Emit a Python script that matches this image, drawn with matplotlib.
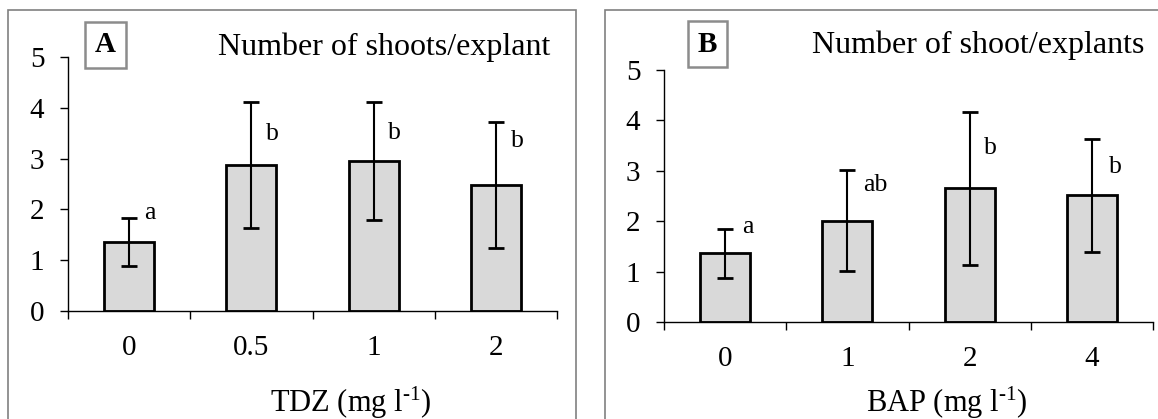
import matplotlib
matplotlib.use("Agg")
import matplotlib.pyplot as plt
from matplotlib.patches import Rectangle

plt.rcParams['font.family'] = ['Liberation Serif', 'DejaVu Serif']
plt.rcParams['mathtext.fontset'] = 'custom'
plt.rcParams['mathtext.rm'] = 'Liberation Serif'
plt.rcParams['mathtext.it'] = 'Liberation Serif:italic'
plt.rcParams['mathtext.bf'] = 'Liberation Serif:bold'

# Panel A data (TDZ)
tdz_levels = ["0", "0.5", "1", "2"]
tdz_means = [1.36, 2.87, 2.95, 2.48]
tdz_err = [0.47, 1.24, 1.16, 1.24]
tdz_letters = ["a", "b", "b", "b"]
tdz_letter_y = [1.93, 3.48, 3.51, 3.35]

# Panel B data (BAP)
bap_levels = ["0", "1", "2", "4"]
bap_means = [1.36, 2.01, 2.65, 2.51]
bap_err = [0.48, 1.00, 1.52, 1.12]
bap_letters = ["a", "ab", "b", "b"]
bap_letter_y = [1.88, 2.72, 3.45, 3.07]

W, H = 1158, 419
fig = plt.figure(figsize=(W / 100, H / 100), dpi=100)

def px_axes(l, r, b, t):
    return fig.add_axes([l / W, 1 - b / H, (r - l) / W, (b - t) / H])

def panel(ax, levels, means, err, letters, ly, xoffs):
    x = list(range(len(levels)))
    ax.bar(x, means, width=0.41, color='#d9d9d9', edgecolor='black',
           linewidth=2.0, zorder=2)
    ax.errorbar(x, means, yerr=err, fmt='none', ecolor='black',
                elinewidth=1.5, capsize=6, capthick=2.0, zorder=3)
    for xi, lt, yy, dx in zip(x, letters, ly, xoffs):
        ax.text(xi + dx, yy, lt, ha='left', va='center', fontsize=18.5)
    ax.set_xlim(-0.5, len(levels) - 0.5)
    ax.set_ylim(0, 5)
    ax.set_yticks([0, 1, 2, 3, 4, 5])
    ax.set_xticks([i - 0.5 for i in range(len(levels) + 1)])
    ax.set_xticklabels([])
    ax.set_xticks(x, minor=True)
    ax.set_xticklabels(levels, minor=True, fontsize=21)
    ax.tick_params(axis='x', which='major', direction='out', length=6, width=1)
    ax.tick_params(axis='x', which='minor', length=0, pad=17)
    ax.tick_params(axis='y', direction='out', length=6, width=1, pad=11,
                   labelsize=21)
    for s in ['top', 'right']:
        ax.spines[s].set_visible(False)
    for s in ['left', 'bottom']:
        ax.spines[s].set_linewidth(1.0)
        ax.spines[s].set_color('black')
    ax.set_facecolor('none')

# Outer panel frames
fig.patches.append(Rectangle((8 / W, -0.1), (576 - 8) / W, 1.1 - 10 / H,
                             transform=fig.transFigure, fill=False,
                             edgecolor='#808080', linewidth=1.2))
fig.patches.append(Rectangle((605 / W, -0.1), 1.0, 1.1 - 10 / H,
                             transform=fig.transFigure, fill=False,
                             edgecolor='#808080', linewidth=1.2))

axA = px_axes(68, 557, 311, 57)
panel(axA, tdz_levels, tdz_means, tdz_err, tdz_letters, tdz_letter_y,
      [0.12, 0.12, 0.12, 0.12])
axB = px_axes(664, 1153, 322, 70)
panel(axB, bap_levels, bap_means, bap_err, bap_letters, bap_letter_y,
      [0.14, 0.13, 0.12, 0.14])

# Panel label boxes
for (l, r, t, b, lab) in [(85, 126, 22, 68, "A"), (688, 727, 21, 67, "B")]:
    fig.patches.append(Rectangle((l / W, 1 - b / H), (r - l) / W, (b - t) / H,
                                 transform=fig.transFigure, facecolor='white',
                                 edgecolor='#8c8c8c', linewidth=1.8))
    fig.text((l + r) / 2 / W, 1 - (t + b) / 2 / H, lab, ha='center',
             va='center', fontsize=21, fontweight='bold')

# Titles
fig.text(384.5 / W, 1 - 47 / H, "Number of shoots/explant", ha='center',
         va='center', fontsize=23)
fig.text(978 / W, 1 - 45 / H, "Number of shoot/explants", ha='center',
         va='center', fontsize=23)

# X labels
fig.text(351 / W, 1 - 412 / H, r"TDZ (mg l$^{\text{-1}}$)", ha='center',
         va='baseline', fontsize=22)
fig.text(947 / W, 1 - 412 / H, r"BAP (mg l$^{\text{-1}}$)", ha='center',
         va='baseline', fontsize=22)

fig.savefig("out.png", dpi=100)
